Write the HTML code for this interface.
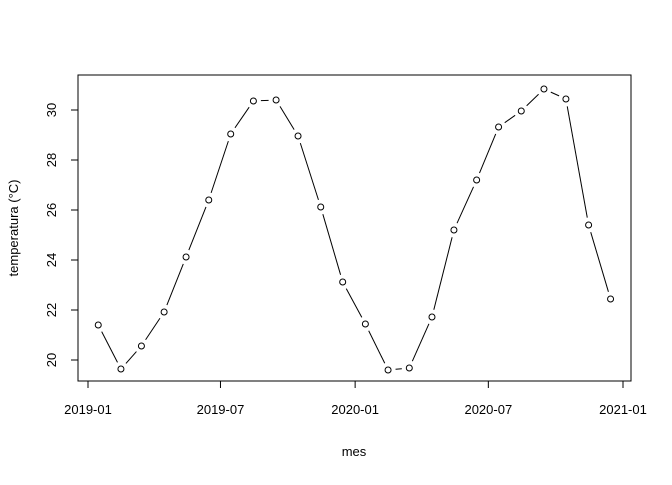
<!DOCTYPE html>
<html><head><meta charset="utf-8"><style>
body{margin:0;background:#fff}
svg text{font-family:"Liberation Sans",Arial,sans-serif;font-size:13px;fill:#000}
</style></head><body>
<svg id="chart" width="672" height="480" xmlns="http://www.w3.org/2000/svg">
<rect x="78" y="75" width="553" height="306" fill="none" stroke="#000"/>
<g id="xaxis"></g>
<g id="yaxis"></g>
<g id="series"></g>
<text x="354" y="456" text-anchor="middle">mes</text>
<text transform="translate(18,228) rotate(-90)" text-anchor="middle">temperatura (°C)</text>
</svg>
<script>
const months = ["2019-01-15","2019-02-15","2019-03-15","2019-04-15","2019-05-15","2019-06-15","2019-07-15","2019-08-15","2019-09-15","2019-10-15","2019-11-15","2019-12-15","2020-01-15","2020-02-15","2020-03-15","2020-04-15","2020-05-15","2020-06-15","2020-07-15","2020-08-15","2020-09-15","2020-10-15","2020-11-15","2020-12-15"];
const temps = [21.4,19.64,20.56,21.92,24.12,26.4,29.04,30.36,30.4,28.96,26.12,23.12,21.44,19.6,19.68,21.72,25.2,27.2,29.32,29.96,30.84,30.44,25.4,22.44];
const xTicks = ["2019-01","2019-07","2020-01","2020-07","2021-01"];
const yTicks = [20,22,24,26,28,30];

const NS="http://www.w3.org/2000/svg";
const d0=Date.UTC(2019,0,1), d1=Date.UTC(2021,0,1);
function px(s){const p=s.split("-");const t=Date.UTC(+p[0],+p[1]-1,p[2]?+p[2]:1);return 88+(t-d0)/(d1-d0)*535;}
function py(v){return 360-(v-20)*25;}
function mk(tag,attrs,parent){const e=document.createElementNS(NS,tag);for(const k in attrs)e.setAttribute(k,attrs[k]);parent.appendChild(e);return e;}
const xa=document.getElementById("xaxis"), ya=document.getElementById("yaxis"), sg=document.getElementById("series");
mk("line",{x1:px(xTicks[0]),x2:px(xTicks[xTicks.length-1]),y1:381,y2:381,stroke:"#000"},xa);
xTicks.forEach(t=>{const x=px(t);
 const l=mk("line",{x1:x,x2:x,y1:381,y2:388,stroke:"#000"},xa);
 
 
 const tx=mk("text",{x:x,y:414,"text-anchor":"middle"},xa);tx.textContent=t;
 
 
});
mk("line",{x1:78,x2:78,y1:py(yTicks[0]),y2:py(yTicks[yTicks.length-1]),stroke:"#000"},ya);
yTicks.forEach(v=>{const y=py(v);
 const l=mk("line",{x1:71,x2:78,y1:y,y2:y,stroke:"#000"},ya);
 
 
 const tx=mk("text",{transform:`translate(56,${y}) rotate(-90)`,"text-anchor":"middle"},ya);tx.textContent=v;
 
 
});
const pts=months.map((m,i)=>[px(m),py(temps[i])]);
const gap=7.5;
for(let i=0;i<pts.length-1;i++){
 const [x1,y1]=pts[i],[x2,y2]=pts[i+1];const dx=x2-x1,dy=y2-y1,L=Math.hypot(dx,dy);
 if(L<=2*gap)continue;const ux=dx/L,uy=dy/L;
 const s=mk("line",{x1:x1+ux*gap,y1:y1+uy*gap,x2:x2-ux*gap,y2:y2-uy*gap,stroke:"#000"},sg);
 
 
}
pts.forEach(([x,y])=>{const c=mk("circle",{cx:x,cy:y,r:3,fill:"none",stroke:"#000"},sg);
 
 
});
</script>
</body></html>
